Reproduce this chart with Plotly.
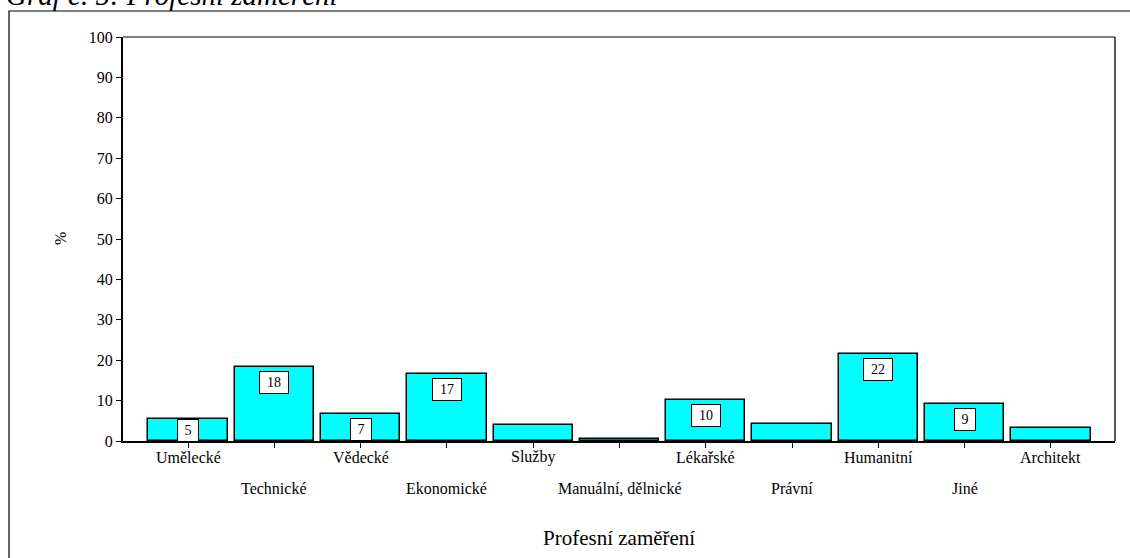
import plotly.graph_objects as go

categories = ["Umělecké", "Technické", "Vědecké", "Ekonomické", "Služby",
              "Manuální, dělnické", "Lékařské", "Právní", "Humanitní", "Jiné", "Architekt"]
values = [5.4, 18.3, 6.8, 16.6, 4.0, 0.4, 10.2, 4.3, 21.6, 9.1, 3.2]
value_labels = ["5", "18", "7", "17", None, None, "10", None, "22", "9", None]
y_ticks = [0, 10, 20, 30, 40, 50, 60, 70, 80, 90, 100]

FONT = "Liberation Serif"
W, H = 1130, 558
ML, MR, MT, MB = 123, 15, 37, 117
plot_h = H - MT - MB
plot_w = W - ML - MR

xs = list(range(len(categories)))

fig = go.Figure()
fig.add_trace(go.Bar(
    x=xs, y=values, width=0.92,
    marker=dict(color="#00FFFF", line=dict(color="black", width=1.5)),
    hoverinfo="skip",
))

annotations = []
px_per_unit = plot_h / 100.0
for i, (v, lab) in enumerate(zip(values, value_labels)):
    if lab is None:
        continue
    bar_px = v * px_per_unit
    shift = -max(0, min(4, bar_px - 22))
    annotations.append(dict(
        x=i, y=v, xref="x", yref="y", text=lab, showarrow=False,
        yanchor="top", yshift=shift,
        font=dict(family=FONT, size=14, color="black"),
        bgcolor="white", bordercolor="black", borderwidth=1, borderpad=1,
        width=26 if len(lab) > 1 else 18, height=19,
    ))

# category labels (two staggered rows)
for i, c in enumerate(categories):
    annotations.append(dict(
        x=i, y=0, xref="x", yref="paper", text=c, showarrow=False,
        yanchor="middle", yshift=-16 if i % 2 == 0 else -47,
        font=dict(family=FONT, size=16, color="black"),
    ))

# axis titles
annotations.append(dict(
    x=0.5, y=0, xref="paper", yref="paper", text="Profesní zaměření", showarrow=False,
    yanchor="middle", yshift=-97, font=dict(family=FONT, size=21, color="black"),
))
annotations.append(dict(
    x=(60 - ML) / plot_w, y=0.5, xref="paper", yref="paper", text="%", showarrow=False,
    textangle=-90, xanchor="center", yanchor="middle",
    font=dict(family=FONT, size=16, color="black"),
))
# chart title (cut off at top)
annotations.append(dict(
    x=(4 - ML) / plot_w, y=1 + (MT - 13) / plot_h, xref="paper", yref="paper",
    text="<i>Graf č. 5: Profesní zaměření</i>", showarrow=False,
    xanchor="left", yanchor="bottom",
    font=dict(family=FONT, size=29, color="black"),
))

shapes = [
    # outer frame
    dict(type="rect", xref="paper", yref="paper",
         x0=(9 - ML) / plot_w, x1=1.2, y0=-0.6, y1=1 + (MT - 11) / plot_h,
         line=dict(color="black", width=1.2), fillcolor="rgba(0,0,0,0)", layer="below"),
    # top plot border (gray)
    dict(type="line", xref="paper", yref="paper", x0=0, x1=1, y0=1, y1=1,
         line=dict(color="#808080", width=2)),
    # right plot border
    dict(type="line", xref="paper", yref="paper", x0=1, x1=1, y0=0, y1=1,
         line=dict(color="#222222", width=1.5)),
]

fig.update_layout(
    width=W, height=H,
    margin=dict(l=ML, r=MR, t=MT, b=MB, pad=0),
    paper_bgcolor="white", plot_bgcolor="white",
    showlegend=False,
    bargap=0,
    annotations=annotations,
    shapes=shapes,
    xaxis=dict(
        range=[-0.755, 10.743], tickvals=xs, showticklabels=False,
        ticks="outside", ticklen=5, tickcolor="black", tickwidth=1,
        showline=True, linecolor="black", linewidth=2,
        showgrid=False, zeroline=False, fixedrange=True,
    ),
    yaxis=dict(
        range=[0, 100], tickvals=y_ticks,
        ticks="outside", ticklen=5, tickcolor="black", tickwidth=1,
        showline=True, linecolor="black", linewidth=2,
        showgrid=False, zeroline=False,
        tickfont=dict(family=FONT, size=16, color="black"),
    ),
)

fig.write_html("out.html", config={"displayModeBar": False},
               post_script="document.body.style.margin='0';document.body.style.overflow='hidden';")
